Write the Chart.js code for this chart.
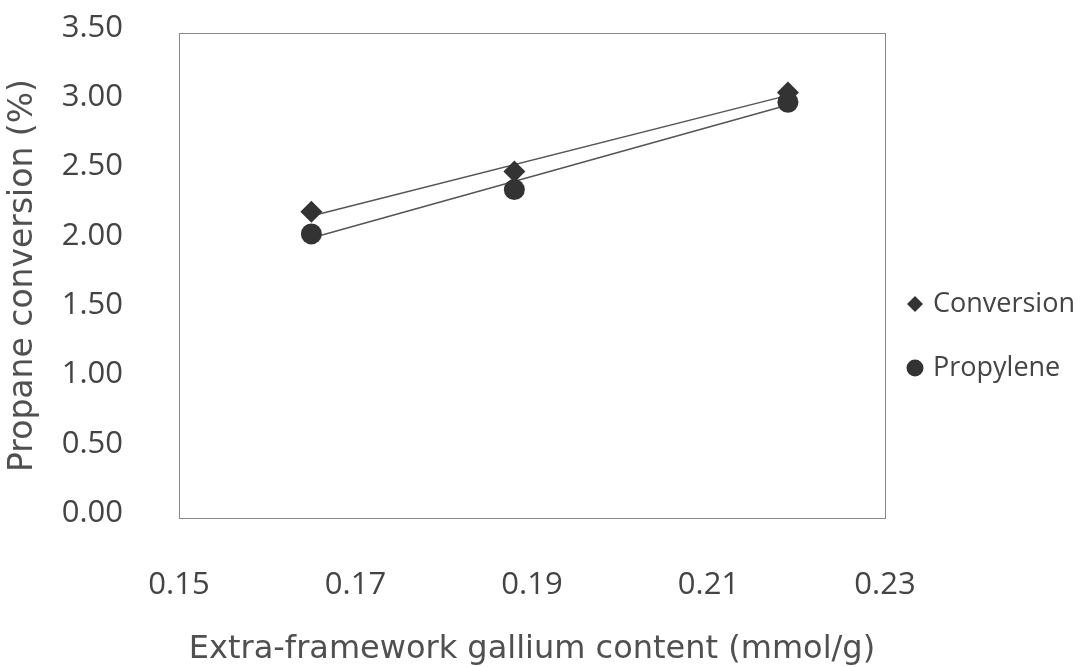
<!DOCTYPE html>
<html>
<head>
<meta charset="utf-8">
<title>Propane conversion vs gallium content</title>
<script src="https://cdn.jsdelivr.net/npm/chart.js@4.4.1/dist/chart.umd.min.js"></script>
<style>
  body { margin: 0; background: #fff; }
  #wrap { width: 1082px; height: 667px; }
</style>
</head>
<body>
<div id="wrap"><canvas id="chart" width="1082" height="667"></canvas></div>
<script>
// values
const galliumContent = [0.165, 0.188, 0.219]
const conversion = [2.21, 2.50, 3.07]
const propylene = [2.05, 2.37, 3.00]

// linear trendlines (end points)
const trendX = [0.165, 0.219]
const conversionTrend = [2.18, 3.05]
const propyleneTrend = [2.02, 2.98]

const xTicks = [0.15, 0.17, 0.19, 0.21, 0.23]
const yTicks = [0, 0.5, 1, 1.5, 2, 2.5, 3, 3.5]

const toPoints = (xs, ys) => xs.map((x, i) => ({ x: x, y: ys[i] }))

const markColor = '#333333'
const lineColor = '#555555'
const textColor = '#444444'
const titleColor = '#505050'
const titleFont = "'DejaVu Sans', sans-serif"

Chart.defaults.font.family = "'Open Sans', sans-serif"
Chart.defaults.color = textColor

// draws the full frame round the plot
const frame = {
    id: 'frame',
    beforeDatasetsDraw(chart) {
        const { ctx, chartArea: a } = chart
        ctx.save()
        ctx.strokeStyle = '#888'
        ctx.lineWidth = 1
        ctx.strokeRect(a.left + 0.5, a.top + 0.5, a.right - a.left, a.bottom - a.top)
        ctx.restore()
    }
}

// legend sitting to the right of the plot
const sideLegend = {
    id: 'sideLegend',
    afterDraw(chart) {
        const ctx = chart.ctx
        const items = [
            { label: 'Conversion', shape: 'diamond', y: 304 },
            { label: 'Propylene', shape: 'circle', y: 368 }
        ]
        ctx.save()
        items.forEach(item => {
            ctx.fillStyle = markColor
            ctx.beginPath()
            if (item.shape === 'diamond') {
                ctx.moveTo(915, item.y - 8)
                ctx.lineTo(923, item.y)
                ctx.lineTo(915, item.y + 8)
                ctx.lineTo(907, item.y)
                ctx.closePath()
            } else {
                ctx.arc(915, item.y, 8.5, 0, Math.PI * 2)
            }
            ctx.fill()
            ctx.fillStyle = textColor
            ctx.font = "27px 'Open Sans', sans-serif"
            ctx.textBaseline = 'middle'
            ctx.textAlign = 'left'
            ctx.fillText(item.label, 933, item.y)
        })
        ctx.restore()
    }
}

new Chart(document.getElementById('chart').getContext('2d'), {
    type: 'scatter',
    data: {
        datasets: [
            {
                label: 'Conversion trend',
                data: toPoints(trendX, conversionTrend),
                showLine: true,
                borderColor: lineColor,
                borderWidth: 1.5,
                pointRadius: 0,
                order: 3
            },
            {
                label: 'Propylene trend',
                data: toPoints(trendX, propyleneTrend),
                showLine: true,
                borderColor: lineColor,
                borderWidth: 1.5,
                pointRadius: 0,
                order: 3
            },
            {
                label: 'Conversion',
                data: toPoints(galliumContent, conversion),
                pointStyle: 'rectRot',
                pointRadius: 11,
                backgroundColor: markColor,
                borderColor: markColor,
                borderWidth: 0,
                order: 2
            },
            {
                label: 'Propylene',
                data: toPoints(galliumContent, propylene),
                pointStyle: 'circle',
                pointRadius: 10.5,
                backgroundColor: markColor,
                borderColor: markColor,
                borderWidth: 0,
                order: 1
            }
        ]
    },
    options: {
        responsive: false,
        animation: false,
        layout: { padding: { top: 33, right: 197, bottom: 0, left: 0 } },
        plugins: {
            legend: { display: false },
            tooltip: { enabled: false }
        },
        scales: {
            x: {
                type: 'linear',
                min: xTicks[0],
                max: xTicks[xTicks.length - 1],
                afterBuildTicks: scale => { scale.ticks = xTicks.map(v => ({ value: v })) },
                afterFit: scale => {
                    scale.height = 149
                    scale.paddingLeft = 0
                    scale.paddingRight = 0
                },
                grid: { display: false },
                border: { display: true, color: '#888', width: 1 },
                ticks: {
                    padding: 41,
                    font: { size: 31 },
                    color: textColor,
                    callback: v => v.toFixed(2)
                },
                title: {
                    display: true,
                    text: 'Extra-framework gallium content (mmol/g)',
                    font: { family: titleFont, size: 32, lineHeight: 1.1 },
                    color: titleColor,
                    padding: { top: 0, bottom: 0 }
                }
            },
            y: {
                type: 'linear',
                min: yTicks[0],
                max: yTicks[yTicks.length - 1],
                afterBuildTicks: scale => { scale.ticks = yTicks.map(v => ({ value: v })) },
                afterFit: scale => {
                    scale.width = 179
                    scale.paddingTop = 0
                    scale.paddingBottom = 0
                },
                grid: { display: false },
                border: { display: true, color: '#888', width: 1 },
                ticks: {
                    padding: 48,
                    labelOffset: -5,
                    font: { size: 31 },
                    color: textColor,
                    callback: v => v.toFixed(2)
                },
                title: {
                    display: true,
                    text: 'Propane conversion (%)',
                    font: { family: titleFont, size: 33 },
                    color: titleColor,
                    padding: { top: 4, bottom: 0 }
                }
            }
        }
    },
    plugins: [frame, sideLegend]
})
</script>
</body>
</html>
